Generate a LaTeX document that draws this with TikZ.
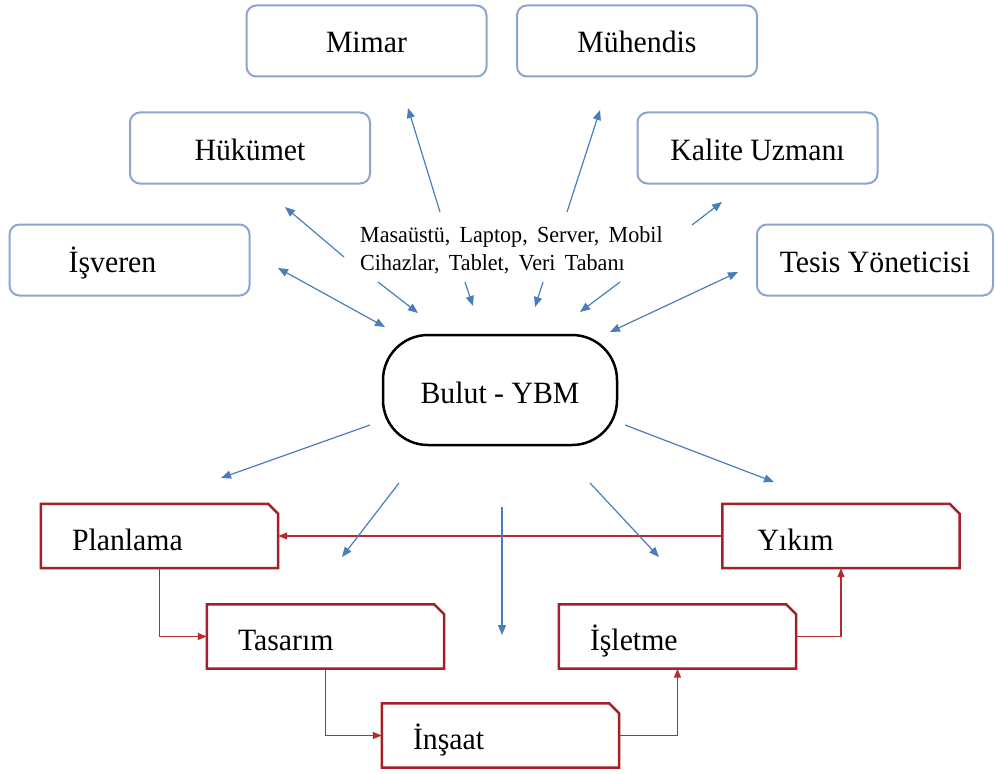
\documentclass[tikz,border=0pt]{standalone}
\usepackage{fontspec}
\setmainfont{Liberation Serif}[FakeStretch=0.96]
\usetikzlibrary{arrows.meta}
\definecolor{boxblue}{RGB}{140,165,205}
\definecolor{arrblue}{RGB}{74,126,187}
\definecolor{boxred}{RGB}{165,32,38}
\definecolor{linered}{RGB}{180,45,45}
\newcommand\redoutline[1]{\draw[boxred, line width=2.5pt, line join=miter] (#1.south west) -- (#1.north west) -- ([xshift=-10pt]#1.north east) -- ([yshift=-10pt]#1.north east) -- (#1.south east) -- cycle;}
\begin{document}
\begin{tikzpicture}[x=1pt,y=-1pt,
  bigfont/.style={font=\fontsize{31}{36}\selectfont},
  topbox/.style={bigfont, draw=boxblue, fill=white, line width=2pt, rounded corners=10pt,
    minimum height=71pt, minimum width=240pt, inner sep=0pt, text height=24pt, text depth=0pt},
  cloudbox/.style={bigfont, draw=black, line width=2.5pt, rounded corners=45pt,
    minimum width=234pt, minimum height=110pt, inner sep=0pt, text height=26pt, text depth=0pt},
  redbox/.style={bigfont, minimum height=64pt, text width=175pt, inner xsep=31pt, inner ysep=0pt,
    align=left, text height=28pt, text depth=0pt},
  smalltxt/.style={font=\fontsize{23}{28}\selectfont, inner sep=0pt, anchor=base west},
  barrow/.style={draw=arrblue, line width=1.2pt, -{Triangle[length=10pt,width=8pt]}},
  bdarrow/.style={draw=arrblue, line width=1.2pt, {Triangle[length=10pt,width=8pt]}-{Triangle[length=10pt,width=8pt]}},
  rarrow/.style={draw=linered, line width=1.2pt, -{Triangle[length=9pt,width=7pt]}}
]
\useasboundingbox (0,0) rectangle (995,773);

% top boxes
\node[topbox] (mimar) at (366.5,41) {Mimar};
\node[topbox] (muh) at (637,41) {Mühendis};
\node[topbox] (huk) at (250,148) {Hükümet};
\node[topbox] (kal) at (757.5,148) {Kalite Uzmanı};
\node[topbox] (isv) at (129.5,260) {İşveren\hspace*{34pt}};
\node[topbox, minimum width=236pt] (tes) at (875,260) {Tesis Yöneticisi};

% central cloud
\node[cloudbox] (bulut) at (500,390) {Bulut - YBM};

% device text
\node[smalltxt] (dev1) at (360,242) {Masaüstü,\, Laptop,\, Server,\, Mobil};
\node[smalltxt] (dev2) at (360,270) {Cihazlar,\, Tablet,\, Veri\, Tabanı};

% lifecycle boxes
\node[redbox] (pl) at (159.5,536) {Planlama};
\node[redbox] (ta) at (325.5,636.5) {Tasarım};
\node[redbox] (ins) at (500.5,735.5) {İnşaat};
\node[redbox] (isl) at (677.5,636.5) {İşletme};
\node[redbox, inner xsep=31pt] (yik) at (841,536) {\hspace*{4pt}Yıkım};
\foreach \n in {pl,ta,ins,isl,yik}{\redoutline{\n}}

% red connectors
\draw[rarrow] (pl.south) |- (ta.west);
\draw[rarrow] (ta.south) |- (ins.west);
\draw[rarrow] (ins.east) -| (isl.south);
\draw[rarrow] (isl.east) -| (yik.south);
\draw[rarrow] (yik.west) -- (pl.east);

% blue arrow end points
\coordinate (mimS) at (440,212);  \coordinate (mimT) at (408,108);
\coordinate (muhS) at (567,212);  \coordinate (muhT) at (600,110);
\coordinate (hukS) at (344,257);  \coordinate (hukT) at (285,207);
\coordinate (kalS) at (692,225);  \coordinate (kalT) at (722,202);
\coordinate (isvA) at (278,268);  \coordinate (isvB) at (385,327);
\coordinate (tesA) at (738,272);  \coordinate (tesB) at (610,332);
\coordinate (d1S) at (378,282);   \coordinate (d1T) at (418,313);
\coordinate (d2S) at (465,282);   \coordinate (d2T) at (473,306);
\coordinate (d3S) at (543,282);   \coordinate (d3T) at (535,307);
\coordinate (d4S) at (620,282);   \coordinate (d4T) at (580,312);
\coordinate (l1S) at (370,425);   \coordinate (l1T) at (221,478);
\coordinate (l2S) at (399,483);   \coordinate (l2T) at (342,557);
\coordinate (l3S) at (502,507);   \coordinate (l3T) at (502,635);
\coordinate (l4S) at (590,483);   \coordinate (l4T) at (659,557);
\coordinate (l5S) at (625,425);   \coordinate (l5T) at (774,482);

\draw[barrow] (mimS) -- (mimT);
\draw[barrow] (muhS) -- (muhT);
\draw[barrow] (hukS) -- (hukT);
\draw[barrow] (kalS) -- (kalT);
\draw[bdarrow] (isvA) -- (isvB);
\draw[bdarrow] (tesA) -- (tesB);
\draw[barrow] (d1S) -- (d1T);
\draw[barrow] (d2S) -- (d2T);
\draw[barrow] (d3S) -- (d3T);
\draw[barrow] (d4S) -- (d4T);
\draw[barrow] (l1S) -- (l1T);
\draw[barrow] (l2S) -- (l2T);
\draw[barrow] (l3S) -- (l3T);
\draw[barrow] (l4S) -- (l4T);
\draw[barrow] (l5S) -- (l5T);
\end{tikzpicture}
\end{document}
